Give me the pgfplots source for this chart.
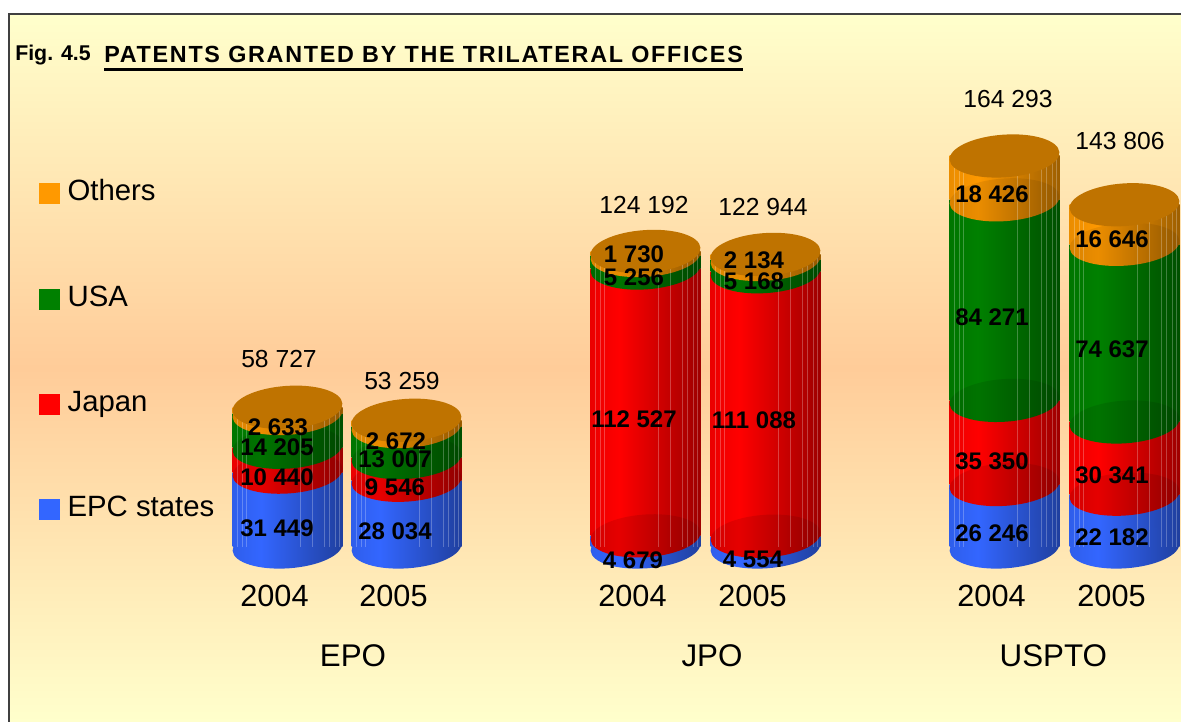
\documentclass[border=0pt]{standalone}
\usepackage{pgfplots}
\pgfplotsset{compat=1.18}
\usepackage{pgfplotstable}
\usepackage{fontspec}
\setmainfont{Liberation Sans}
\usetikzlibrary{shapes.geometric}
\definecolor{cblue}{HTML}{3366FF}
\definecolor{cred}{HTML}{FF0000}
\definecolor{cgreen}{HTML}{008000}
\definecolor{corange}{HTML}{FF9900}
\definecolor{ccap}{HTML}{BF7300}
\definecolor{bgy}{HTML}{FFFFCC}
\definecolor{bgp}{HTML}{FFCC99}
\colorlet{dblue}{cblue!62!black}
\colorlet{dred}{cred!62!black}
\colorlet{dgreen}{cgreen!62!black}
\colorlet{dorange}{corange!62!black}
\pgfdeclarehorizontalshading{sblue}{100bp}{color(0bp)=(cblue!92!black);color(25bp)=(cblue!92!black);color(38bp)=(cblue);color(75bp)=(dblue);color(100bp)=(dblue)}
\pgfdeclarehorizontalshading{sred}{100bp}{color(0bp)=(cred!92!black);color(25bp)=(cred!92!black);color(38bp)=(cred);color(75bp)=(dred);color(100bp)=(dred)}
\pgfdeclarehorizontalshading{sgreen}{100bp}{color(0bp)=(cgreen!92!black);color(25bp)=(cgreen!92!black);color(38bp)=(cgreen);color(75bp)=(dgreen);color(100bp)=(dgreen)}
\pgfdeclarehorizontalshading{sorange}{100bp}{color(0bp)=(corange!92!black);color(25bp)=(corange!92!black);color(38bp)=(corange);color(75bp)=(dorange);color(100bp)=(dorange)}
\pgfdeclarehorizontalshading{xred}{100bp}{color(0bp)=(cred!82!black);color(25bp)=(cred!82!black);color(38bp)=(cred!90!black);color(75bp)=(dred!90!black);color(100bp)=(dred!90!black)}
\pgfdeclarehorizontalshading{xgreen}{100bp}{color(0bp)=(cgreen!82!black);color(25bp)=(cgreen!82!black);color(38bp)=(cgreen!90!black);color(75bp)=(dgreen!90!black);color(100bp)=(dgreen!90!black)}
\pgfdeclarehorizontalshading{xorange}{100bp}{color(0bp)=(corange!85!black);color(25bp)=(corange!85!black);color(38bp)=(corange!92!black);color(75bp)=(dorange!92!black);color(100bp)=(dorange!92!black)}
\pgfdeclareplotmark{capell}{\pgftransformrotate{4}\pgfpathellipse{\pgfpointorigin}{\pgfqpoint{41.25bp}{0pt}}{\pgfqpoint{0pt}{16bp}}\pgfusepathqfill}
\pgfplotstableread{
x      epc    japan  usa    others total
287.5  31449  10440  14205  2633   58727
406.5  28034  9546   13007  2672   53259
645.5  4679   112527 5256   1730   124192
765.5  4554   111088 5168   2134   122944
1004.5 26246  35350  84271  18426  164293
1124.5 22182  30341  74637  16646  143806
}\data
\newcommand{\vlab}[3]{\node[font=\bfseries\fontsize{18bp}{18bp}\selectfont,inner sep=0pt] at ({#1*0.75bp},{(722-#2)*0.75bp}) {#3};}
\newcommand{\tlab}[3]{\node[font=\fontsize{18.5bp}{19bp}\selectfont,inner sep=0pt] at ({#1*0.75bp},{(722-#2)*0.75bp}) {#3};}
\pgfplotsset{
  base/.style={
    anchor=south west, at={(0,0)},
    scale only axis, width=885.75bp, height=541.5bp,
    xmin=0, xmax=1181, ymin=-73529, ymax=229832,
    clip=false,
  },
  seg/.style n args={3}{
    fill=none, draw=none, shade, shading=#1,
    visualization depends on={\thisrow{#3}/1000 \as \rawk},
    nodes near coords={},
    every node near coord/.append style={
      ellipse, inner sep=0pt, minimum width=82.5bp, minimum height=32bp,
      anchor=center, draw=none, shade, shading=#2,
      yshift={-\rawk*0.8925bp}, rotate=4},
  },
}
\newcommand{\cyl}[2]{%
\begin{axis}[base, hide axis, ybar stacked, reverse stacked plots=false, bar width=110, restrict x to domain=#1:#2]
\addplot[seg={sblue}{sblue}{epc}] table[x=x,y=epc]{\data};
\addplot[seg={sred}{xred}{japan}] table[x=x,y=japan]{\data};
\addplot[seg={sgreen}{xgreen}{usa}] table[x=x,y=usa]{\data};
\addplot[seg={sorange}{xorange}{others}] table[x=x,y=others]{\data};
\end{axis}}
\begin{document}
\begin{tikzpicture}
\fill[white] (0,0) rectangle (885.75bp,541.5bp);
\path[top color=bgy, bottom color=bgy, middle color=bgp] (6.75bp,0) rectangle (885.75bp,531bp);
\draw[black!75, line width=1pt] (6.75bp,0) -- (6.75bp,531bp) -- (885.75bp,531bp);
\begin{axis}[base,
  axis line style={draw=none}, major tick length=0pt,
  ytick=\empty,
  xtick={287.5,406.5,645.5,765.5,1004.5,1124.5},
  xticklabels={2004,2005,2004,2005,2004,2005},
  xticklabel style={font=\fontsize{23bp}{23bp}\selectfont, anchor=center, yshift=94.5bp, xshift=-9.75bp},
  legend image code/.code={\fill[#1,draw=none] (0bp,-8bp) rectangle (15.75bp,7.75bp);},
  reverse legend,
  legend cell align=left,
  legend style={at={(29.25bp,407bp)}, anchor=north west, draw=none, fill=none,
    font=\fontsize{22bp}{22bp}\selectfont, row sep=58bp, inner sep=0pt,
    nodes={inner sep=0pt, text height=16bp, text depth=5bp, xshift=0bp}},
]
\addlegendimage{fill=cblue}\addlegendentry{\hspace{5.5bp}EPC states}
\addlegendimage{fill=cred}\addlegendentry{\hspace{5.5bp}Japan}
\addlegendimage{fill=cgreen}\addlegendentry{\hspace{5.5bp}USA}
\addlegendimage{fill=corange}\addlegendentry{\hspace{5.5bp}Others}
\end{axis}
\cyl{287}{288}\cyl{406}{407}\cyl{645}{646}\cyl{765}{766}\cyl{1004}{1005}\cyl{1124}{1125}
\begin{axis}[base, hide axis]
\pgfplotsinvokeforeach{-49.7,-45.3,-40.7,13,25,37,42,48,52}{
  \addplot[ycomb, draw=white, opacity=0.25, line width=0.5pt, mark=none, xshift=#1*0.75bp] table[x=x,y=total]{\data};
}
\addplot[only marks, mark=capell, mark options={fill=ccap, draw=none}] table[x=x,y=total]{\data};
\end{axis}
\tlab{279}{359}{58 727}\tlab{402}{381}{53 259}
\tlab{644}{205}{124 192}\tlab{763}{207}{122 944}
\tlab{1008}{99}{164 293}\tlab{1120}{141}{143 806}
\vlab{277}{528}{31 449}\vlab{277}{477}{10 440}\vlab{277}{447}{14 205}\vlab{278}{427}{2 633}
\vlab{395}{531}{28 034}\vlab{395}{487}{9 546}\vlab{395}{459}{13 007}\vlab{396}{441}{2 672}
\vlab{633}{560}{4 679}\vlab{634}{419}{112 527}\vlab{634}{277}{5 256}\vlab{634}{254}{1 730}
\vlab{753}{559}{4 554}\vlab{754}{420}{111 088}\vlab{754}{281}{5 168}\vlab{754}{260}{2 134}
\vlab{992}{533}{26 246}\vlab{992}{461}{35 350}\vlab{992}{317}{84 271}\vlab{992}{194}{18 426}
\vlab{1112}{537}{22 182}\vlab{1112}{475}{30 341}\vlab{1112}{349}{74 637}\vlab{1112}{239}{16 646}
\node[font=\fontsize{23.5bp}{24bp}\selectfont,inner sep=0pt] at (264.75bp,49.5bp) {EPO};
\node[font=\fontsize{23.5bp}{24bp}\selectfont,inner sep=0pt] at (534bp,49.5bp) {JPO};
\node[font=\fontsize{23.5bp}{24bp}\selectfont,inner sep=0pt] at (790bp,49.5bp) {USPTO};
\node[font=\bfseries\fontsize{16bp}{17bp}\selectfont,inner sep=0pt,anchor=west] at (11.25bp,500bp) {Fig. 4.5};
\node[font=\bfseries\fontsize{17.5bp}{18bp}\selectfont,inner sep=0pt,anchor=west] at (78bp,500.5bp) {\addfontfeatures{LetterSpace=7.4}PATENTS GRANTED BY THE TRILATERAL OFFICES};
\fill[black] (78bp,488.6bp) rectangle (557.25bp,490.3bp);
\pgfresetboundingbox
\useasboundingbox (0,0) rectangle (885.75bp,541.5bp);
\end{tikzpicture}
\end{document}
